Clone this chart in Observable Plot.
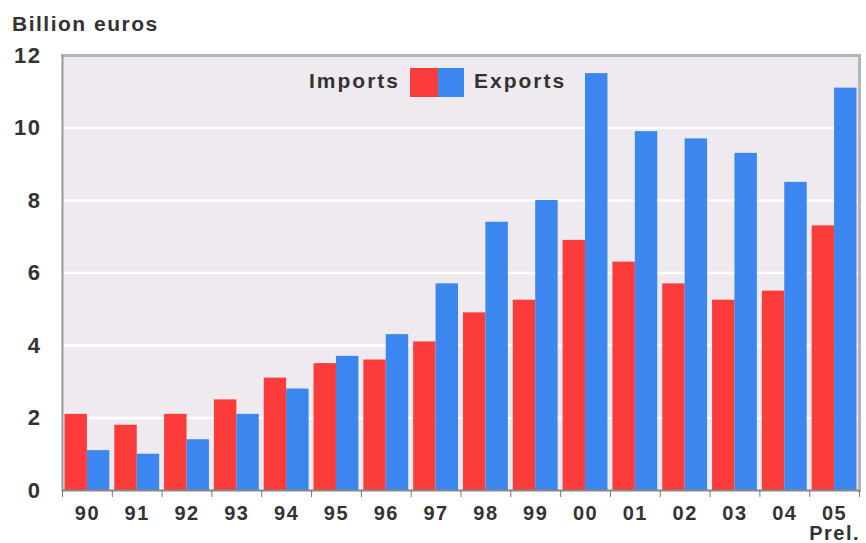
<!DOCTYPE html>
<html><head><meta charset="utf-8">
<script src="https://cdn.jsdelivr.net/npm/d3@7"></script>
<script src="https://cdn.jsdelivr.net/npm/@observablehq/plot@0.6"></script>
<style>
body{margin:0;background:#fff;}
#wrap{position:relative;width:866px;height:543px;font-family:"Liberation Sans",Arial,sans-serif;}
.t{position:absolute;font-weight:bold;color:#333;white-space:nowrap;}
.sw{position:absolute;}
</style></head><body><div id="wrap"></div>
<script>
const years = ["90","91","92","93","94","95","96","97","98","99","00","01","02","03","04","05"];
const imports = [2.1,1.8,2.1,2.5,3.1,3.5,3.6,4.1,4.9,5.25,6.9,6.3,5.7,5.25,5.5,7.3];
const exports = [1.1,1.0,1.4,2.1,2.8,3.7,4.3,5.7,7.4,8.0,11.5,9.9,9.7,9.3,8.5,11.1];
const seriesNames = ["Imports","Exports"];
const seriesColors = ["#fc3b3b","#3b86ef"];
const yTicks = [0,2,4,6,8,10,12];
const yTitle = "Billion euros";
const prelNote = "Prel.";

const rows = years.map((year,i)=>({year, imports: imports[i], exports: exports[i]}));

const W = 866, H = 543, mL = 62, mR = 7, mT = 55, mB = 53;
const pIn = 0.1, pOut = 0.05;
const step = (W - mL - mR) / (years.length - pIn + 2*pOut);
const half = step * (1 - pIn) / 2;

const chart = Plot.plot({
  width: W, height: H,
  marginLeft: mL, marginRight: mR, marginTop: mT, marginBottom: mB,
  style: {fontFamily: '"Liberation Sans", Arial, sans-serif', fontWeight: "bold", color: "#333", background: "transparent", letterSpacing: "1.5px"},
  x: {domain: years, paddingInner: pIn, paddingOuter: pOut, round: false},
  y: {domain: [0, 12]},
  marks: [
    Plot.frame({fill: "#eeeaef", stroke: null}),
    Plot.gridY(yTicks.filter(v => v > 0 && v < 12), {stroke: "white", strokeOpacity: 1, strokeWidth: 2.5}),
    Plot.barY(rows, {x: "year", y: "imports", fill: seriesColors[0], insetRight: half}),
    Plot.barY(rows, {x: "year", y: "exports", fill: seriesColors[1], insetLeft: half}),
    Plot.frame({anchor: "top", stroke: "#b4b4bc", strokeWidth: 3}),
    Plot.frame({anchor: "right", stroke: "#b4b4bc", strokeWidth: 3}),
    Plot.frame({anchor: "left", stroke: "#999", strokeWidth: 2}),
    Plot.ruleY([0], {stroke: "#888", strokeWidth: 2}),
    Plot.axisY({ticks: yTicks, tickSize: 0, tickPadding: 21, fontSize: 22, label: null}),
    Plot.axisX({tickSize: 0, tickPadding: 15, fontSize: 20, label: null, lineHeight: 1.02,
      tickFormat: d => d === years[years.length-1] ? d + "\n" + prelNote : d}),
    Plot.axisX({tickSize: 7, tickFormat: () => "", dx: -step/2, label: null, stroke: "#777"}),
    Plot.axisX({ticks: [years[years.length-1]], tickSize: 7, tickFormat: () => "", dx: step/2, label: null, stroke: "#777"})
  ]
});

const wrap = document.getElementById("wrap");
wrap.appendChild(chart);
chart.style.position = "absolute"; chart.style.left = "0"; chart.style.top = "0";

function add(html, css, cls){ const d = document.createElement("div"); d.className = cls; d.textContent = html; Object.assign(d.style, css); wrap.appendChild(d); return d; }
add(yTitle, {left: "12px", top: "12px", fontSize: "21px", letterSpacing: "1.5px"}, "t");
add(seriesNames[0], {right: (W - 400) + "px", top: "69px", fontSize: "21px", letterSpacing: "2px"}, "t");
add("", {left: "410px", top: "68px", width: "28px", height: "29px", background: seriesColors[0]}, "sw");
add("", {left: "438px", top: "68px", width: "26px", height: "29px", background: seriesColors[1]}, "sw");
add(seriesNames[1], {left: "474px", top: "69px", fontSize: "21px", letterSpacing: "2px"}, "t");
</script></body></html>
